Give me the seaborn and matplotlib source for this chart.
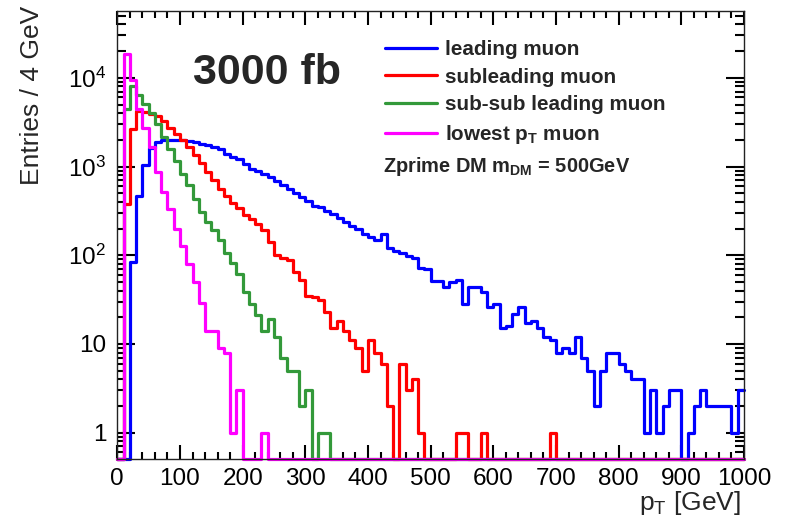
import numpy as np
import pandas as pd
import matplotlib
matplotlib.use("Agg")
import matplotlib.pyplot as plt
import seaborn as sns
from matplotlib.ticker import FixedLocator, FixedFormatter, MultipleLocator, LogLocator, NullFormatter

# ---------------- data (10 GeV bins from 0 to 1000 GeV) ----------------
bin_edges = list(range(0, 1001, 10))

leading_muon = [0, 0, 84, 465, 1050, 1600, 1880, 1980, 2000, 2000,
                1980, 1950, 1900, 1780, 1740, 1660, 1590, 1400, 1280, 1200,
                1075, 946, 880, 815, 765, 685, 620, 565, 500, 455,
                405, 357, 347, 313, 295, 262, 235, 213, 200, 175,
                160, 150, 172, 120, 112, 107, 98, 92, 72, 70,
                51, 51, 44, 50, 52, 28, 44, 44, 38, 26,
                28, 15, 16, 22, 26, 17, 18, 15, 12, 11,
                8, 9, 8, 12, 7, 5, 2, 5, 8, 8,
                6, 5, 4, 4, 1, 3, 1, 2, 3, 3,
                0, 1, 2, 3, 2, 2, 2, 2, 1, 3]

subleading_muon = [0, 375, 2630, 4200, 4100, 3950, 3700, 3230, 2720, 2350,
                   1975, 1660, 1340, 1100, 870, 700, 560, 470, 390, 340,
                   282, 258, 227, 190, 141, 100, 92, 88, 65, 52,
                   35, 34, 31, 23, 15, 18, 14, 11, 9, 5,
                   11, 8, 6, 2, 0, 6, 3, 4, 1, 0,
                   0, 0, 0, 0, 1, 1, 0, 0, 1, 0,
                   0, 0, 0, 0, 0, 0, 0, 0, 0, 1,
                   0, 0, 0, 0, 0, 0, 0, 0, 0, 0,
                   0, 0, 0, 0, 0, 0, 0, 0, 0, 0,
                   0, 0, 0, 0, 0, 0, 0, 0, 0, 0]

subsub_muon = [0, 4500, 8000, 6460, 5020, 4000, 2990, 2150, 1590, 1140,
               830, 615, 435, 310, 237, 190, 147, 106, 81, 62,
               38, 28, 21, 14, 19, 12, 7, 5, 5, 2,
               3, 0, 1, 1, 0, 0, 0, 0, 0, 0,
               0, 0, 0, 0, 0, 0, 0, 0, 0, 0,
               0, 0, 0, 0, 0, 0, 0, 0, 0, 0,
               0, 0, 0, 0, 0, 0, 0, 0, 0, 0,
               0, 0, 0, 0, 0, 0, 0, 0, 0, 0,
               0, 0, 0, 0, 0, 0, 0, 0, 0, 0,
               0, 0, 0, 0, 0, 0, 0, 0, 0, 0]

lowest_muon = [0, 18700, 9400, 4400, 2700, 1660, 870, 520, 330, 200,
               126, 80, 50, 29, 14, 14, 9, 8, 1, 3,
               0, 0, 0, 1, 0, 0, 0, 0, 0, 0,
               0, 0, 0, 0, 0, 0, 0, 0, 0, 0,
               0, 0, 0, 0, 0, 0, 0, 0, 0, 0,
               0, 0, 0, 0, 0, 0, 0, 0, 0, 0,
               0, 0, 0, 0, 0, 0, 0, 0, 0, 0,
               0, 0, 0, 0, 0, 0, 0, 0, 0, 0,
               0, 0, 0, 0, 0, 0, 0, 0, 0, 0,
               0, 0, 0, 0, 0, 0, 0, 0, 0, 0]

series_labels = ["leading muon", "subleading muon", "sub-sub leading muon",
                 r"lowest $\mathbf{p_{T}}$ muon"]
series_colors = ["#0000ff", "#ff0000", "#33993a", "#ff00ff"]
x_ticks = [0, 100, 200, 300, 400, 500, 600, 700, 800, 900, 1000]
y_ticks = [1, 10, 100, 1000, 10000]
y_tick_labels = ["1", "10", r"$10^{2}$", r"$10^{3}$", r"$10^{4}$"]

# ---------------- style ----------------
sns.set_style("ticks")
plt.rcParams["font.family"] = ["Liberation Sans", "DejaVu Sans"]
plt.rcParams["mathtext.fontset"] = "custom"
plt.rcParams["mathtext.rm"] = "Liberation Sans"
plt.rcParams["mathtext.it"] = "Liberation Sans:italic"
plt.rcParams["mathtext.bf"] = "Liberation Sans:bold"
for a in ("xtick", "ytick"):
    plt.rcParams[f"{a}.direction"] = "in"
    plt.rcParams[f"{a}.color"] = "black"
    plt.rcParams[f"{a}.major.width"] = 1.5
    plt.rcParams[f"{a}.minor.width"] = 1.5
plt.rcParams["xtick.bottom"] = True
plt.rcParams["xtick.top"] = True
plt.rcParams["ytick.left"] = True
plt.rcParams["ytick.right"] = True
plt.rcParams["xtick.major.size"] = 10
plt.rcParams["xtick.minor.size"] = 5
plt.rcParams["ytick.major.size"] = 13
plt.rcParams["ytick.minor.size"] = 6.5

YMIN, YMAX = 0.5, 5.66e4

fig = plt.figure(figsize=(7.87, 5.18), dpi=100)
ax = fig.add_axes([0.14905, 0.1133, 0.7963, 0.8654])

centers = [e + 5 for e in bin_edges[:-1]]
for vals, lab, col in zip([leading_muon, subleading_muon, subsub_muon, lowest_muon],
                          series_labels, series_colors):
    shown = [v if v > 0 else YMIN for v in vals]
    df = pd.DataFrame({"pt": centers, "w": shown})
    sns.histplot(data=df, x="pt", weights="w", bins=bin_edges, element="step",
                 fill=False, color=col, linewidth=2.3, ax=ax, label=lab,
                 clip_on=False)

ax.set_yscale("log")
ax.set_xlim(0, 1000)
ax.set_ylim(YMIN, YMAX)

ax.xaxis.set_major_locator(FixedLocator(x_ticks))
ax.xaxis.set_minor_locator(MultipleLocator(20))
ax.yaxis.set_major_locator(FixedLocator(y_ticks))
ax.yaxis.set_major_formatter(FixedFormatter(y_tick_labels))
ax.yaxis.set_minor_locator(LogLocator(base=10, subs=np.arange(2, 10)))
ax.yaxis.set_minor_formatter(NullFormatter())

ax.tick_params(axis="x", which="major", direction="in", top=True, bottom=True,
               color="#000000", width=1.5, length=10, labelsize=17.5, pad=6)
ax.tick_params(axis="x", which="minor", direction="in", top=True, bottom=True,
               color="#000000", width=1.5, length=5)
ax.tick_params(axis="y", which="major", direction="in", left=True, right=True,
               color="#000000", width=1.5, length=13, labelsize=17.5, pad=8)
ax.tick_params(axis="y", which="minor", direction="in", left=True, right=True,
               color="#000000", width=1.5, length=6.5)
for sp in ax.spines.values():
    sp.set_visible(True)
    sp.set_linewidth(1.0)
    sp.set_color("#222222")

ax.set_ylabel("Entries / 4 GeV", fontsize=19, loc="top")
ax.yaxis.set_label_coords(-0.117, 1.012)
ax.set_xlabel(r"$\mathregular{p_{T}}$ [GeV]", fontsize=19, loc="right")
ax.xaxis.set_label_coords(0.995, -0.066)

handles = ax.get_lines()[:4]
leg = ax.legend(handles, series_labels, loc="upper left",
                bbox_to_anchor=(385 / 787, 1 - 40 / 518), bbox_transform=fig.transFigure,
                frameon=False, prop={"weight": "bold", "size": 14.9},
                handlelength=2.5, handletextpad=0.42, labelspacing=0.42,
                borderpad=0, borderaxespad=0)

fig.text(193 / 787, 1 - 73 / 518, "3000 fb", fontsize=31, fontweight="bold",
         va="center", ha="left")
fig.text(383 / 787, 1 - 166 / 518, r"Zprime DM m$_{\mathbf{DM}}$ = 500GeV",
         fontsize=14.4, fontweight="bold", va="center", ha="left")

fig.savefig("out.png", dpi=100)
